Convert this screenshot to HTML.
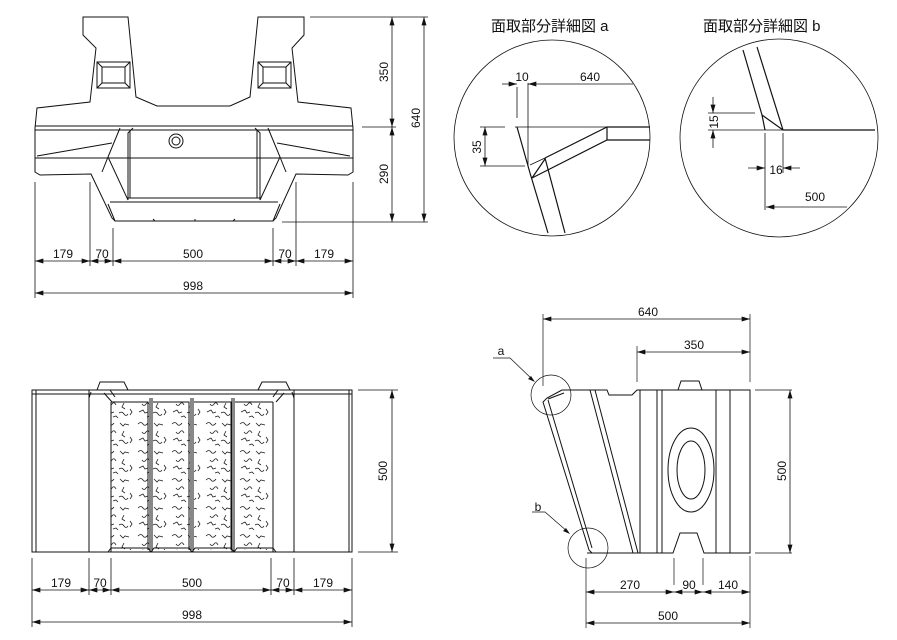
<!DOCTYPE html>
<html><head><meta charset="utf-8"><style>
html,body{margin:0;padding:0;background:#fff}
svg{display:block}
text{font-family:"Liberation Sans","Noto Sans CJK JP",sans-serif;fill:#111}
</style></head><body>
<svg width="897" height="640" viewBox="0 0 897 640" xmlns="http://www.w3.org/2000/svg">
<defs>
<marker id="ar" viewBox="0 0 10 6" refX="10" refY="3" markerWidth="9" markerHeight="5" orient="auto-start-reverse" markerUnits="userSpaceOnUse"><path d="M0,0 L10,3 L0,6 z" fill="#111"/></marker>
<pattern id="sq" width="34" height="28" patternUnits="userSpaceOnUse">
<g fill="none" stroke="#222" stroke-width="0.8">
<path d="M2,4 q3,-3 5,0 t5,-1"/><path d="M18,3 l3,3 l2,-2 l4,1"/><path d="M6,12 q2,3 4,0 q2,-3 4,1"/><path d="M22,11 l-2,4 l3,2"/>
<path d="M3,20 l4,-2 l2,3 l3,-1"/><path d="M17,21 q3,-2 5,1 t4,0"/><path d="M28,17 l2,3 l-2,3"/><path d="M11,25 l3,-1 l2,2"/>
</g></pattern>
</defs>
<g fill="none" stroke="#111" stroke-width="1">
<path d="M83,17 L83,35 L96,48 L90,102 L37,108 L35,128 L35,172 L40,175 L91,174 L112,218 L115,221 L273,221 L276,218 L296,174 L348,175 L353,172 L353,128 L351,108 L298,102 L292,48 L304,35 L304,17 L258,17 L250,97 L230,106 L157,106 L136,97 L128,17 Z"/>
<rect x="97" y="62" width="33" height="26"/><rect x="102" y="67" width="23" height="16"/>
<path d="M97,62 L102,67 M130,62 L125,67 M97,88 L102,83 M130,88 L125,83"/>
<rect x="258" y="62" width="33" height="26"/><rect x="263" y="67" width="23" height="16"/>
<path d="M258,62 L263,67 M291,62 L286,67 M258,88 L263,83 M291,88 L286,83"/>
<path d="M35,126 L353,126 M35,130 L353,130 M35,158 L353,158"/>
<path d="M37,156 L112,143 M277,143 L350,156"/>
<path d="M120,128 L108,157 L128,200 M133,128 L128,133 L128,200 M268,128 L280,157 L260,200 M255,128 L260,133 L260,200"/>
<path d="M130,130 L130,198 M257,130 L257,198"/>
<path d="M110,202 L278,202 M128,198 L260,198 M108,157 L102,172 M280,157 L286,172"/>
<path d="M108,204 L115,221 M280,204 L273,221"/>
<path d="M153,219 L155,221 M195,219 L195,221 M235,219 L233,221"/>
<circle cx="176" cy="141" r="7"/><circle cx="176" cy="141" r="4"/>
</g>
<g fill="none" stroke="#111" stroke-width="0.8">
<path d="M35,182 L35,298 M90,182 L90,266 M113,228 L113,266 M273,228 L273,266 M296,182 L296,266 M353,182 L353,298"/>
<path d="M310,17 L428,17 M362,127 L396,127 M282,222 L428,222"/>
<line x1="392" y1="17" x2="392" y2="127" marker-start="url(#ar)" marker-end="url(#ar)"/>
<line x1="392" y1="127" x2="392" y2="222" marker-start="url(#ar)" marker-end="url(#ar)"/>
<line x1="424" y1="17" x2="424" y2="222" marker-start="url(#ar)" marker-end="url(#ar)"/>
<line x1="35" y1="261" x2="90" y2="261" marker-start="url(#ar)" marker-end="url(#ar)"/>
<line x1="90" y1="261" x2="113" y2="261" marker-start="url(#ar)" marker-end="url(#ar)"/>
<line x1="113" y1="261" x2="273" y2="261" marker-start="url(#ar)" marker-end="url(#ar)"/>
<line x1="273" y1="261" x2="296" y2="261" marker-start="url(#ar)" marker-end="url(#ar)"/>
<line x1="296" y1="261" x2="353" y2="261" marker-start="url(#ar)" marker-end="url(#ar)"/>
<line x1="35" y1="293" x2="353" y2="293" marker-start="url(#ar)" marker-end="url(#ar)"/>
</g>
<g font-size="12" text-anchor="middle">
<text x="63" y="258">179</text><text x="102" y="258">70</text><text x="193" y="258">500</text><text x="285" y="258">70</text><text x="324" y="258">179</text>
<text x="193" y="290">998</text>
<text transform="translate(388,72) rotate(-90)">350</text>
<text transform="translate(388,174) rotate(-90)">290</text>
<text transform="translate(420,118) rotate(-90)">640</text>
</g>

<rect x="111" y="402" width="38" height="148" fill="url(#sq)"/>
<rect x="153" y="402" width="37" height="148" fill="url(#sq)"/>
<rect x="194" y="402" width="37" height="148" fill="url(#sq)"/>
<rect x="235" y="402" width="38" height="148" fill="url(#sq)"/>
<g fill="none" stroke="#111" stroke-width="1">
<rect x="32" y="390" width="320" height="162"/>
<path d="M36,390 L36,552 M89,390 L89,552 M294,390 L294,552 M349,390 L349,552 M32,394 L352,394"/>
<path d="M97,390 L100,382 L124,382 L128,390 M258,390 L262,382 L286,382 L290,390"/>
<path d="M89,398 L91,392 M294,398 L292,392 M104,393 L112,402 M110,390 L115,397 M284,393 L276,402 M278,390 L273,397"/>
<path d="M111,402 L111,552 M273,402 L273,552 M111,402 L148,402 L148,550 M153,402 L189,402 L189,550 M194,402 L231,402 L231,550 M235,402 L273,402"/>
<path d="M150,398 L150,552 M152,398 L152,552 M191,398 L191,552 M193,398 L193,552 M232,398 L232,552 M234,398 L234,552"/>
<path d="M108,552 L111,548 L148,548 L151,552 M151,552 L154,548 L189,548 L192,552 M192,552 L195,548 L231,548 L234,552 M234,552 L237,548 L273,548 L276,552"/>
</g>
<g fill="none" stroke="#111" stroke-width="0.8">
<path d="M32,558 L32,627 M89,558 L89,595 M111,558 L111,595 M271,558 L271,595 M294,558 L294,595 M352,558 L352,627"/>
<path d="M358,390 L398,390 M358,552 L398,552"/>
<line x1="392" y1="390" x2="392" y2="552" marker-start="url(#ar)" marker-end="url(#ar)"/>
<line x1="32" y1="590" x2="89" y2="590" marker-start="url(#ar)" marker-end="url(#ar)"/>
<line x1="89" y1="590" x2="111" y2="590" marker-start="url(#ar)" marker-end="url(#ar)"/>
<line x1="111" y1="590" x2="271" y2="590" marker-start="url(#ar)" marker-end="url(#ar)"/>
<line x1="271" y1="590" x2="294" y2="590" marker-start="url(#ar)" marker-end="url(#ar)"/>
<line x1="294" y1="590" x2="352" y2="590" marker-start="url(#ar)" marker-end="url(#ar)"/>
<line x1="32" y1="622" x2="352" y2="622" marker-start="url(#ar)" marker-end="url(#ar)"/>
</g>
<g font-size="12" text-anchor="middle">
<text x="61" y="587">179</text><text x="100" y="587">70</text><text x="192" y="587">500</text><text x="283" y="587">70</text><text x="323" y="587">179</text>
<text x="192" y="619">998</text>
<text transform="translate(387,471) rotate(-90)">500</text>
</g>

<g fill="none" stroke="#111" stroke-width="1">
<path d="M562,390 L607,390 L609,395 L632,395 L637,390 L750,390 L750,553 L704,553 L697,533 L680,533 L673,553 L587,553"/>
<path d="M562,390 L547,398 L543,402 L589,550 L592,553 M548,399 L564,393 M548,400 L592,548"/>
<path d="M590,390 L633,553 M595,390 L638,553"/>
<path d="M640,390 L640,553 M657,390 L657,553 M662,390 L662,553 M716,390 L716,553 M730,390 L730,553"/>
<path d="M678,390 L681,381 L699,381 L702,390"/>
<ellipse cx="691" cy="470" rx="23" ry="42"/><ellipse cx="691" cy="470" rx="14" ry="29"/>
</g>
<g fill="none" stroke="#111" stroke-width="0.7">
<circle cx="551" cy="395" r="20"/><circle cx="588" cy="548" r="20"/>
<path d="M493,358 L510,358 L533,380 M532,512 L545,512 L568,532"/>
<path d="M543,314 L543,386 M750,314 L750,382 M637,346 L637,382 M586,558 L586,628 M674,558 L674,585 M703,558 L703,585 M750,556 L750,628"/>
<path d="M755,390 L792,390 M755,553 L792,553"/>
</g>
<path d="M535,382 L528,379 L531,376 Z M570,534 L563,531 L566,528 Z" fill="#111"/>
<g fill="none" stroke="#111" stroke-width="0.8">
<line x1="543" y1="319" x2="750" y2="319" marker-start="url(#ar)" marker-end="url(#ar)"/>
<line x1="637" y1="352" x2="750" y2="352" marker-start="url(#ar)" marker-end="url(#ar)"/>
<line x1="790" y1="390" x2="790" y2="553" marker-start="url(#ar)" marker-end="url(#ar)"/>
<line x1="586" y1="592" x2="674" y2="592" marker-start="url(#ar)" marker-end="url(#ar)"/>
<line x1="674" y1="592" x2="703" y2="592" marker-start="url(#ar)" marker-end="url(#ar)"/>
<line x1="703" y1="592" x2="750" y2="592" marker-start="url(#ar)" marker-end="url(#ar)"/>
<line x1="586" y1="623" x2="750" y2="623" marker-start="url(#ar)" marker-end="url(#ar)"/>
</g>
<g font-size="12" text-anchor="middle">
<text x="648" y="316">640</text><text x="694" y="349">350</text>
<text x="630" y="589">270</text><text x="689" y="589">90</text><text x="728" y="589">140</text>
<text x="668" y="620">500</text>
<text transform="translate(786,471) rotate(-90)">500</text>
<text x="501" y="355" font-size="12">a</text><text x="538" y="511" font-size="12">b</text>
</g>

<text x="491" y="31" font-size="15">面取部分詳細図 a</text>
<circle cx="552" cy="138" r="98" fill="none" stroke="#111" stroke-width="0.8"/>
<g fill="none" stroke="#111" stroke-width="1.2">
<path d="M517,127 L530,173 L548,233 M545,158 L565,233 M532,178 L545,159"/>
<path d="M532,178 L607,140 L650,140 M545,158 L607,127 L650,127 M607,127 L607,140"/>
</g>
<g fill="none" stroke="#111" stroke-width="0.8">
<path d="M515,127 L607,127 M530,165 L545,158 M517,87 L517,118 M528,83 L528,165 M480,127 L505,127 M480,166 L525,166"/>
<line x1="502" y1="84" x2="517" y2="84" marker-end="url(#ar)"/>
<line x1="633" y1="84" x2="528" y2="84" marker-end="url(#ar)"/>
<line x1="485" y1="127" x2="485" y2="166" marker-start="url(#ar)" marker-end="url(#ar)"/>
</g>
<g font-size="12" text-anchor="middle">
<text x="522" y="81">10</text><text x="590" y="81">640</text>
<text transform="translate(481,147) rotate(-90)">35</text>
</g>

<text x="703" y="31" font-size="15">面取部分詳細図 b</text>
<circle cx="779" cy="138" r="99" fill="none" stroke="#111" stroke-width="0.8"/>
<g fill="none" stroke="#111" stroke-width="1.2">
<path d="M743,50 L762,115 L765,130 M757,47 L783,130 M762,115 L783,130 M783,130 L875,130"/>
</g>
<g fill="none" stroke="#111" stroke-width="0.8">
<path d="M708,113 L755,113 M708,130 L783,130 M765,133 L765,210 M783,133 L783,173"/>
<line x1="713" y1="97" x2="713" y2="113" marker-end="url(#ar)"/>
<line x1="713" y1="148" x2="713" y2="130" marker-end="url(#ar)"/>
<line x1="748" y1="168" x2="765" y2="168" marker-end="url(#ar)"/>
<line x1="800" y1="168" x2="783" y2="168" marker-end="url(#ar)"/>
<line x1="847" y1="207" x2="766" y2="207" marker-end="url(#ar)"/>
</g>
<g font-size="12" text-anchor="middle">
<text transform="translate(718,122) rotate(-90)">15</text>
<text x="776" y="174">16</text><text x="815" y="201">500</text>
</g>
</svg>
</body></html>
